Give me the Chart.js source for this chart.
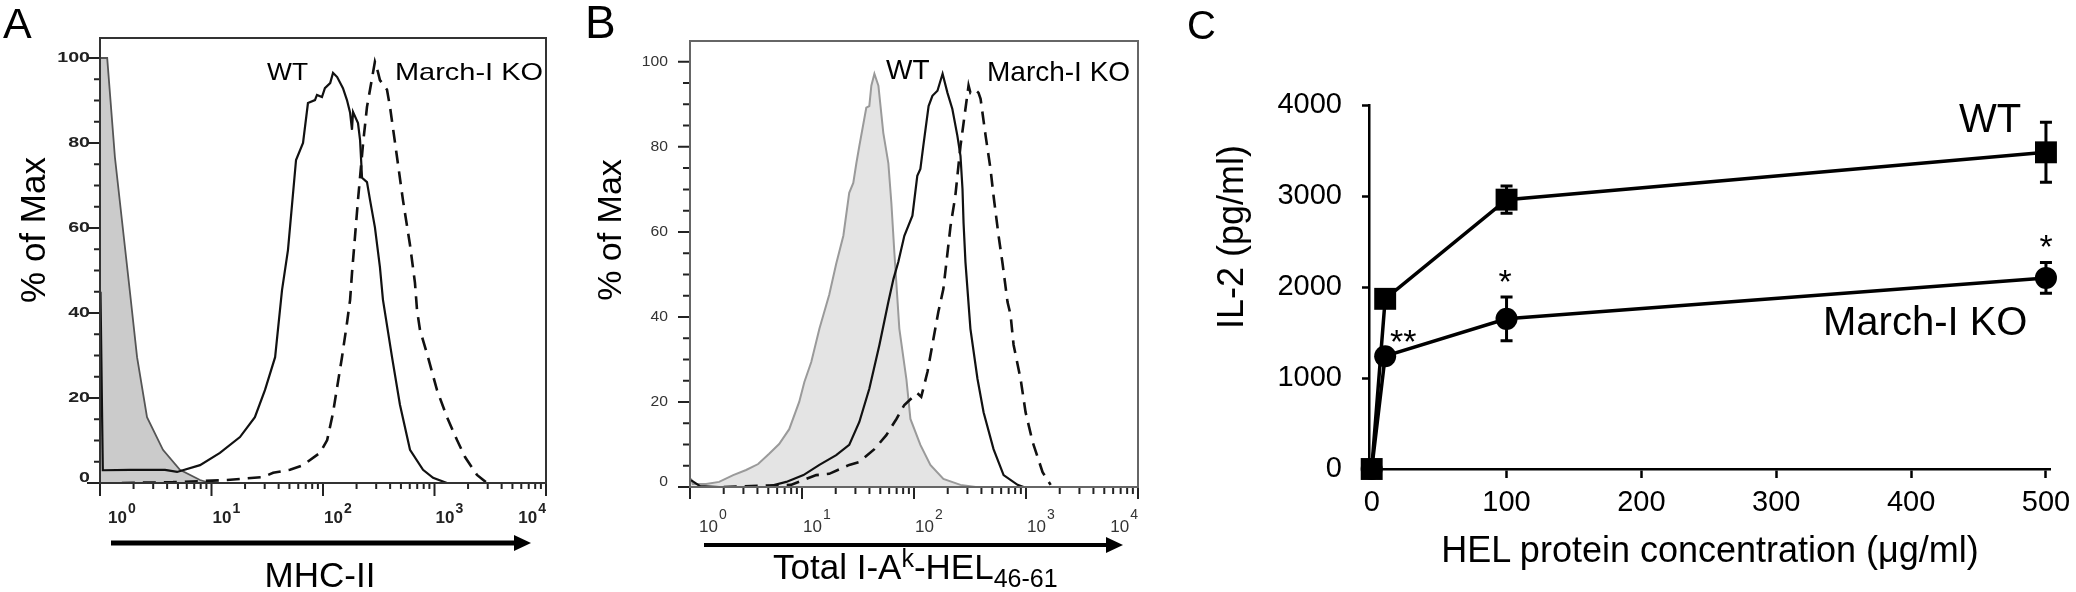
<!DOCTYPE html>
<html><head><meta charset="utf-8">
<script src="https://cdn.jsdelivr.net/npm/chart.js@4.4.1/dist/chart.umd.min.js"></script>
<style>
html,body{margin:0;padding:0;background:#fff;width:2076px;height:592px;overflow:hidden}
canvas{position:absolute;top:0}
#ov{position:absolute;left:0;top:0;pointer-events:none}
#ov text{font-family:"Liberation Sans",Arial,Helvetica,sans-serif;fill:#000}
</style></head><body>
<canvas id="cA" width="560" height="592" style="left:0;width:560px;height:592px"></canvas>
<canvas id="cB" width="600" height="592" style="left:560px;width:600px;height:592px"></canvas>
<canvas id="cC" width="916" height="592" style="left:1160px;width:916px;height:592px"></canvas>
<svg id="ov" width="2076" height="592" xmlns="http://www.w3.org/2000/svg">
  <text x="3" y="38" font-size="43">A</text>
  <text x="585" y="38" font-size="46">B</text>
  <text x="1187" y="39" font-size="40">C</text>
  <text transform="translate(45,230) rotate(-90)" text-anchor="middle" font-size="35">% of Max</text>
  <text transform="translate(621,230) rotate(-90)" text-anchor="middle" font-size="34">% of Max</text>
  <text x="320" y="587" text-anchor="middle" font-size="35">MHC-II</text>
  <text x="773" y="579" font-size="35">Total I-A<tspan font-size="25" dy="-12">k</tspan><tspan dy="12">-HEL</tspan><tspan font-size="25" dy="8">46-61</tspan></text>
  <text x="267" y="80" font-size="24" textLength="41" lengthAdjust="spacingAndGlyphs">WT</text>
  <text x="395" y="80" font-size="24" textLength="148" lengthAdjust="spacingAndGlyphs">March-I KO</text>
  <text x="886" y="79" font-size="28">WT</text>
  <text x="987" y="81" font-size="28">March-I KO</text>
  <text transform="translate(1243,237) rotate(-90)" text-anchor="middle" font-size="36">IL-2 (pg/ml)</text>
  <text x="1710" y="562" text-anchor="middle" font-size="36">HEL protein concentration (μg/ml)</text>
  <text x="1959" y="132" font-size="40">WT</text>
  <text x="1823" y="335" font-size="40">March-I KO</text>
  <text x="1390" y="353" font-size="34">**</text>
  <text x="1505" y="293" text-anchor="middle" font-size="34">*</text>
  <text x="2046" y="258" text-anchor="middle" font-size="34">*</text>
  <line x1="111" y1="543" x2="518" y2="543" stroke="#000" stroke-width="5"/>
  <polygon points="514,535 531,543 514,551" fill="#000"/>
  <line x1="704" y1="545" x2="1110" y2="545" stroke="#000" stroke-width="4"/>
  <polygon points="1106,537 1123,545 1106,553" fill="#000"/>
</svg>
<script>
// ---------- Panel A : MHC-II histograms (x = fluorescence, y = % of Max)
const aIsoX = [1, 1.16, 1.36, 1.86, 2.15, 2.64, 3.67, 5.21, 7.89, 9.70];
const aIsoY = [100, 100, 76.7, 44.7, 29.6, 15.5, 7.8, 3.1, 0.7, 0];
const aWtX = [1.01, 1.06, 1.86, 3.83, 4.91, 7.89, 11.9, 18.0, 24.5, 30.2, 37.2, 42.9, 48.5, 57.3, 66.2, 73.3, 84.7, 88.3, 97.9, 104, 116, 123, 134, 151, 164, 175, 182, 186, 206, 215, 224, 248, 264, 292, 324, 345, 416, 490, 603, 789, 971, 1294];
const aWtY = [45, 3, 3.1, 3.1, 2.6, 4.2, 7.1, 10.8, 15.5, 21.9, 29.6, 45.4, 54.8, 76, 80, 89.4, 90.1, 91.3, 90.8, 92.9, 94.1, 96.5, 95.5, 92.9, 90.1, 87.1, 83.1, 87.3, 84.7, 80.7, 71.8, 70.8, 66.6, 60.2, 50.8, 43.1, 29.6, 18.4, 7.8, 3.1, 1.2, 0];
const aKoX = [1.57, 4.52, 13.8, 29.0, 35.7, 50.6, 66.2, 94.0, 109, 123, 134, 148, 164, 175, 182, 206, 229, 248, 264, 292, 311, 324, 375, 399, 461, 521, 603, 668, 697, 741, 875, 1052, 1294, 1592, 1879, 2404, 2958];
const aKoY = [0, 0.2, 0.7, 1.4, 2.4, 3.1, 4.2, 7.1, 10.1, 16.5, 22.6, 29.6, 37.6, 43.1, 49.4, 66.6, 80, 88.5, 92.5, 99.1, 96.7, 94.8, 92.5, 88.5, 76.7, 66.6, 56, 47.1, 40.7, 36, 29.6, 21.9, 15.5, 10.1, 6.1, 1.9, 0];

// ---------- Panel B : Total I-Ak-HEL46-61 histograms
const bIsoX = [1.02, 1.06, 1.39, 1.82, 2.43, 3.17, 4.06, 5.09, 6.25, 7.69, 9.44, 10.5, 12.1, 14.3, 17.5, 20.2, 23.4, 26.4, 28.7, 30.6, 32.5, 37.5, 39.9, 41.6, 44.3, 48.1, 53.2, 59.0, 62.8, 66.8, 74.0, 85.5, 92.9, 114, 140, 183, 260, 355];
const bIsoY = [2, 0.7, 0.7, 1.2, 2.8, 4, 5.4, 7.8, 10.1, 13.6, 20, 24.7, 29.4, 37.2, 45.2, 52.5, 59.1, 69.2, 71.5, 76.2, 80.2, 89.2, 89.6, 94.4, 97.2, 94.4, 83.3, 76.2, 66.8, 55.1, 37.2, 25.4, 16, 9.9, 5.2, 1.9, 0.5, 0];
const bWtX = [1.02, 1.23, 1.82, 4.79, 7.23, 10.3, 14.3, 20.2, 26.4, 32.5, 39.9, 49.1, 59.0, 65.5, 72.4, 82.0, 96.8, 107, 114, 121, 135, 146, 162, 180, 199, 220, 244, 260, 271, 277, 288, 319, 369, 418, 513, 631, 841, 953];
const bWtY = [1.6, 0.2, 0, 0, 1.2, 2.8, 5.2, 7.5, 9.9, 15.3, 23.1, 33.4, 43.5, 48.9, 52.9, 59.1, 63.8, 73.2, 74.8, 80.2, 89.6, 92, 93.2, 97.2, 92.7, 88.9, 82.6, 77.9, 70.1, 62.1, 52.9, 37.2, 25.4, 17.6, 8.9, 2.8, 0.5, 0];
const bKoX = [2.0, 7.94, 13.4, 17.5, 26.4, 32.5, 44.3, 56.6, 69.7, 82.0, 107, 116, 132, 149, 165, 183, 212, 234, 260, 277, 307, 319, 354, 377, 393, 436, 482, 513, 569, 618, 684, 728, 775, 895, 991, 1146, 1406, 1660];
const bKoY = [0, 0.5, 2.8, 3.1, 5.2, 5.9, 8.9, 12.2, 16, 19.3, 22.1, 21.2, 27.1, 34.8, 41.2, 46.6, 61.4, 68.5, 80.2, 85.6, 94.4, 92.7, 93.4, 92.7, 91.3, 82.6, 74.8, 68.5, 59.1, 52.5, 43.5, 40.5, 33.4, 25.4, 17.6, 10.6, 3.5, 0.5];

// ---------- Tick labels for the histogram axes
const decades = [1, 10, 100, 1000, 10000];
const decadeExp = ['0', '1', '2', '3', '4'];
const yTicksFlow = [0, 20, 40, 60, 80, 100];

// ---------- Panel C : IL-2 response
const conc = [0, 10, 100, 500];
const il2WT = [0, 1870, 2960, 3480];
const il2WTerr = [0, 60, 150, 330];
const il2KO = [0, 1240, 1650, 2100];
const il2KOerr = [0, 50, 240, 170];
const xTicksC = [0, 100, 200, 300, 400, 500];
const yTicksC = [0, 1000, 2000, 3000, 4000];

const FONT = '"Liberation Sans", Arial, Helvetica, sans-serif';
function pts(xs, ys) { return xs.map((x, i) => ({ x: x, y: ys[i] })); }

function flowAxes(cfg) {
  return {
    id: 'flowAxes',
    afterDraw(chart) {
      const ctx = chart.ctx, ca = chart.chartArea, xs = chart.scales.x, ys = chart.scales.y;
      ctx.save();
      ctx.strokeStyle = cfg.tickColor; ctx.lineWidth = cfg.tickWidth;
      ctx.beginPath();
      for (let v = 0; v <= 100; v += 5) {
        const py = ys.getPixelForValue(v);
        const len = (v % 20 === 0) ? cfg.yMajor : cfg.yMinor;
        ctx.moveTo(ca.left, py); ctx.lineTo(ca.left - len, py);
      }
      decades.forEach(d => {
        for (let k = 1; k <= 9; k++) {
          const v = d * k; if (v > xs.max * 1.0001) break;
          const px = xs.getPixelForValue(v);
          const len = k === 1 ? cfg.xMajor : cfg.xMinor;
          ctx.moveTo(px, ca.bottom); ctx.lineTo(px, ca.bottom + len);
        }
      });
      ctx.stroke();
      ctx.strokeStyle = cfg.frameColor; ctx.lineWidth = cfg.frameWidth;
      ctx.strokeRect(ca.left, ca.top, ca.right - ca.left, ca.bottom - ca.top);
      ctx.fillStyle = cfg.labelColor;
      ctx.font = cfg.yFont; ctx.textAlign = 'right'; ctx.textBaseline = 'middle';
      yTicksFlow.forEach(v => {
        const py = ys.getPixelForValue(v) + (v === 0 ? cfg.zeroShift : 0);
        ctx.save(); ctx.translate(ca.left - cfg.yGap, py); ctx.scale(cfg.yScaleX, 1);
        ctx.fillText(String(v), 0, 0); ctx.restore();
      });
      ctx.textAlign = 'left'; ctx.textBaseline = 'alphabetic';
      decades.forEach((d, i) => {
        const px = xs.getPixelForValue(d);
        ctx.font = cfg.xFont; const wb = ctx.measureText('10').width;
        ctx.font = cfg.supFont; const ws = ctx.measureText(decadeExp[i]).width;
        let x0 = px + 1;
        if (i === 0) x0 = px + cfg.firstShift;
        if (i === decades.length - 1) x0 = px - wb - ws - 1;
        ctx.font = cfg.xFont; ctx.fillText('10', x0, ca.bottom + cfg.baseDy);
        ctx.font = cfg.supFont; ctx.fillText(decadeExp[i], x0 + wb + 1, ca.bottom + cfg.baseDy - cfg.supRise);
      });
      ctx.restore();
    }
  };
}

function histChart(id, pad, ymax, sets, axisCfg) {
  return new Chart(document.getElementById(id), {
    type: 'line',
    data: { datasets: sets },
    options: {
      responsive: false, animation: false, devicePixelRatio: 1, events: [],
      layout: { padding: pad },
      plugins: { legend: { display: false }, tooltip: { enabled: false } },
      elements: { point: { radius: 0 }, line: { tension: 0 } },
      scales: {
        x: { type: 'logarithmic', min: 1, max: 10000, display: false },
        y: { type: 'linear', min: 0, max: ymax, display: false }
      }
    },
    plugins: [flowAxes(axisCfg)]
  });
}

histChart('cA', { left: 100, top: 38, right: 14, bottom: 109 }, 104.7, [
  { label: 'WT', data: pts(aWtX, aWtY), borderColor: '#111', borderWidth: 2.2, fill: false },
  { label: 'March-I KO', data: pts(aKoX, aKoY), borderColor: '#111', borderWidth: 2.6, borderDash: [13, 8], fill: false },
  { label: 'Isotype', data: pts(aIsoX, aIsoY), borderColor: '#555', borderWidth: 1.8, backgroundColor: '#cbcbcb', fill: 'origin' }
], {
  tickColor: '#222', tickWidth: 2, frameColor: '#333', frameWidth: 2,
  yMajor: 13, yMinor: 6, xMajor: 13, xMinor: 6,
  labelColor: '#222', yFont: 'bold 14px ' + FONT, yGap: 10, yScaleX: 1.4, zeroShift: -5,
  xFont: 'bold 17px ' + FONT, supFont: 'bold 14px ' + FONT, firstShift: 8, baseDy: 40, supRise: 10
});

histChart('cB', { left: 130, top: 41, right: 22, bottom: 105 }, 104.9, [
  { label: 'WT', data: pts(bWtX, bWtY), borderColor: '#111', borderWidth: 2.2, fill: false },
  { label: 'March-I KO', data: pts(bKoX, bKoY), borderColor: '#111', borderWidth: 2.6, borderDash: [13, 8], fill: false },
  { label: 'Isotype', data: pts(bIsoX, bIsoY), borderColor: '#9a9a9a', borderWidth: 2, backgroundColor: '#e4e4e4', fill: 'origin' }
], {
  tickColor: '#222', tickWidth: 2, frameColor: '#666', frameWidth: 2,
  yMajor: 12, yMinor: 7, xMajor: 12, xMinor: 7,
  labelColor: '#333', yFont: '14px ' + FONT, yGap: 22, yScaleX: 1.12, zeroShift: -5,
  xFont: '17px ' + FONT, supFont: '14px ' + FONT, firstShift: 9, baseDy: 45, supRise: 13
});

const errorBars = {
  id: 'errorBars',
  beforeDatasetsDraw(chart) {
    const ctx = chart.ctx, ys = chart.scales.y;
    ctx.save(); ctx.strokeStyle = '#000'; ctx.lineWidth = 3;
    chart.data.datasets.forEach((ds, di) => {
      const meta = chart.getDatasetMeta(di);
      ds.err.forEach((e, i) => {
        if (!e) return;
        const p = meta.data[i], v = ds.data[i].y;
        const t = ys.getPixelForValue(v + e), b = ys.getPixelForValue(v - e);
        ctx.beginPath();
        ctx.moveTo(p.x, t); ctx.lineTo(p.x, b);
        ctx.moveTo(p.x - 6, t); ctx.lineTo(p.x + 6, t);
        ctx.moveTo(p.x - 6, b); ctx.lineTo(p.x + 6, b);
        ctx.stroke();
      });
    });
    ctx.restore();
  }
};

new Chart(document.getElementById('cC'), {
  type: 'line',
  data: {
    datasets: [
      { label: 'WT', data: pts(conc, il2WT), err: il2WTerr, borderColor: '#000', backgroundColor: '#000', borderWidth: 3.5,
        pointStyle: 'rect', pointRadius: 15.5, pointBorderWidth: 0, tension: 0, clip: false },
      { label: 'March-I KO', data: pts(conc, il2KO), err: il2KOerr, borderColor: '#000', backgroundColor: '#000', borderWidth: 3.5,
        pointStyle: 'circle', pointRadius: 11, pointBorderWidth: 0, tension: 0, clip: false }
    ]
  },
  options: {
    responsive: false, animation: false, devicePixelRatio: 1, events: [],
    layout: { padding: { left: 0, top: 105, right: 26, bottom: 0 } },
    plugins: { legend: { display: false }, tooltip: { enabled: false } },
    scales: {
      x: {
        type: 'linear', min: -2, max: 503,
        afterBuildTicks: s => { s.ticks = xTicksC.map(v => ({ value: v })); },
        afterFit: s => { s.height = 123; s.paddingLeft = 0; s.paddingRight = 0; },
        ticks: { font: { family: FONT, size: 29 }, color: '#000', padding: 8, maxRotation: 0, autoSkip: false,
                 callback: v => String(v) },
        grid: { drawOnChartArea: false, tickLength: 9, tickWidth: 2.5, tickColor: '#000' },
        border: { color: '#000', width: 2.5 }
      },
      y: {
        type: 'linear', min: 0, max: 4000,
        afterBuildTicks: s => { s.ticks = yTicksC.map(v => ({ value: v })); },
        afterFit: s => { s.width = 209; s.paddingTop = 0; s.paddingBottom = 0; },
        ticks: { font: { family: FONT, size: 29 }, color: '#000', padding: 20, autoSkip: false,
                 callback: v => String(v) },
        grid: { drawOnChartArea: false, tickLength: 7, tickWidth: 2.5, tickColor: '#000' },
        border: { color: '#000', width: 2.5 }
      }
    }
  },
  plugins: [errorBars]
});
</script>
</body></html>
